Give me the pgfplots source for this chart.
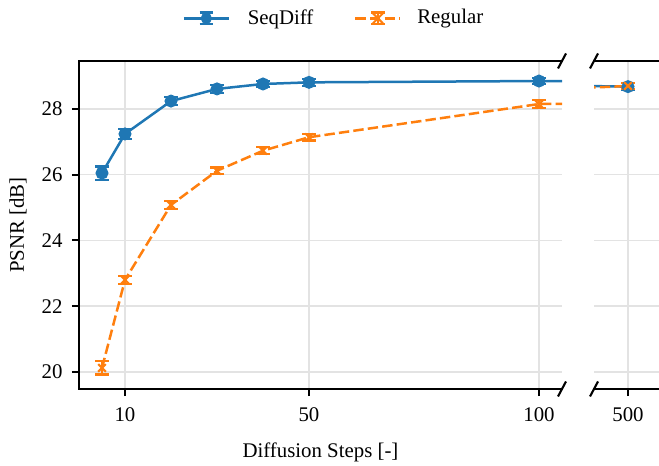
\documentclass[border=0pt]{standalone}
\usepackage{fontspec}
\setmainfont{Liberation Serif}
\usepackage{pgfplots}
\usepackage{pgfplotstable}
\pgfplotsset{compat=1.18}

\definecolor{tabblue}{RGB}{31,119,180}
\definecolor{taborange}{RGB}{255,127,14}

% PSNR versus number of diffusion steps (mean and spread)
\pgfplotstableread{
x    y      e
5    26.05  0.20
10   27.24  0.15
20   28.24  0.12
30   28.61  0.12
40   28.76  0.10
50   28.81  0.10
100  28.85  0.10
500  28.68  0.10
}\seqdiff

\pgfplotstableread{
x    y      e
5    20.12  0.20
10   22.80  0.12
20   25.08  0.12
30   26.12  0.10
40   26.73  0.10
50   27.14  0.10
100  28.15  0.12
500  28.70  0.10
}\regular

\pgfplotsset{
  panel/.style={
    scale only axis,
    height=157.44pt,
    ymin=19.48, ymax=29.46,
    ytick={20,22,...,28},
    axis line style={draw=none},
    tick align=outside,
    xtick pos=bottom, ytick pos=left,
    major tick length=3.4pt,
    tick style={black, line width=0.9pt},
    grid=major,
    major grid style={line width=0.7pt, black!11},
    /pgf/number format/assume math mode=true,
    xticklabel style={yshift=-2pt},
  },
  seqstyle/.style={
    tabblue, line width=1.2pt, mark=*, mark size=2.5pt,
    mark options={solid, fill=tabblue},
    error bars/.cd, y dir=both, y explicit, error mark=|,
    error bar style={line width=1pt, solid, tabblue},
    error mark options={tabblue, mark size=3.2pt, line width=1pt, solid},
    /pgfplots/.cd,
  },
  regstyle/.style={
    taborange, line width=1.2pt, dash pattern=on 5pt off 2pt,
    mark=x, mark size=2.6pt,
    mark options={solid, line width=1pt},
    error bars/.cd, y dir=both, y explicit, error mark=|,
    error bar style={line width=1pt, solid, taborange},
    error mark options={taborange, mark size=3.2pt, line width=1pt, solid},
    /pgfplots/.cd,
  },
}

\begin{document}
\begin{tikzpicture}
\useasboundingbox (-37.92pt,-36.96pt) rectangle (278.4pt,186.72pt);

% steps up to 100
\begin{axis}[
  panel,
  at={(0pt,0pt)}, anchor=south west,
  width=231.84pt,
  xmin=0, xmax=105,
  xtick={10,50,100},
  xlabel={Diffusion Steps [-]},
  xlabel style={at={(axis description cs:0.5,-0.21)}, anchor=base},
  ylabel={PSNR [dB]},
  ylabel style={at={(axis description cs:-0.126,0.5)}, anchor=center, rotate=0},
  yticklabel style={xshift=-1pt},
  legend style={
    at={(axis description cs:0.53,1.13)}, anchor=center,
    draw=none, fill=none, legend columns=2,
    /tikz/every even column/.append style={column sep=17.6pt},
    legend cell align=left,
  },
  extra description/.code={
    \draw[line width=0.9pt] (axis description cs:1,1) -- (axis description cs:0,1)
      -- (axis description cs:0,0) -- (axis description cs:1,0);
    \draw[line width=1pt] (axis description cs:1,1) ++(-1.92pt,-3.6pt) -- ++(3.84pt,7.2pt);
    \draw[line width=1pt] (axis description cs:1,0) ++(-1.92pt,-3.6pt) -- ++(3.84pt,7.2pt);
  },
]
\addplot[forget plot, seqstyle] table[x=x, y=y, y error=e] {\seqdiff};
\addplot[forget plot, regstyle] table[x=x, y=y, y error=e] {\regular};

\addlegendimage{legend image code/.code={
  \draw[tabblue, line width=1.2pt] (0pt,0pt) -- (21.6pt,0pt);
  \fill[tabblue] (10.8pt,0pt) circle (2.5pt);
  \draw[tabblue, line width=1pt] (10.8pt,-2.8pt) -- (10.8pt,2.8pt)
    (7.6pt,-2.8pt) -- (14pt,-2.8pt) (7.6pt,2.8pt) -- (14pt,2.8pt);
  \path (28.5pt,0pt);
}}
\addlegendentry{SeqDiff}
\addlegendimage{legend image code/.code={
  \draw[taborange, line width=1.2pt, dash pattern=on 5pt off 2pt] (0pt,0pt) -- (21.6pt,0pt);
  \draw[taborange, line width=1pt] (8.4pt,-2.4pt) -- (13.2pt,2.4pt) (8.4pt,2.4pt) -- (13.2pt,-2.4pt);
  \draw[taborange, line width=1pt] (10.8pt,-2.8pt) -- (10.8pt,2.8pt)
    (7.6pt,-2.8pt) -- (14pt,-2.8pt) (7.6pt,2.8pt) -- (14pt,2.8pt);
  \path (27.5pt,0pt);
}}
\addlegendentry{Regular}
\end{axis}

% steps at 500
\begin{axis}[
  panel,
  at={(247.2pt,0pt)}, anchor=south west,
  width=31.2pt,
  xmin=466, xmax=531,
  xtick={500},
  yticklabels={},
  ytick style={draw=none},
  extra description/.code={
    \draw[line width=0.9pt] (axis description cs:0,1) -- (axis description cs:1,1);
    \draw[line width=0.9pt] (axis description cs:0,0) -- (axis description cs:1,0);
    \draw[line width=1pt] (axis description cs:0,1) ++(-1.92pt,-3.6pt) -- ++(3.84pt,7.2pt);
    \draw[line width=1pt] (axis description cs:0,0) ++(-1.92pt,-3.6pt) -- ++(3.84pt,7.2pt);
  },
]
\addplot[seqstyle] table[x=x, y=y, y error=e] {\seqdiff};
\addplot[regstyle] table[x=x, y=y, y error=e] {\regular};
\end{axis}
\end{tikzpicture}
\end{document}
